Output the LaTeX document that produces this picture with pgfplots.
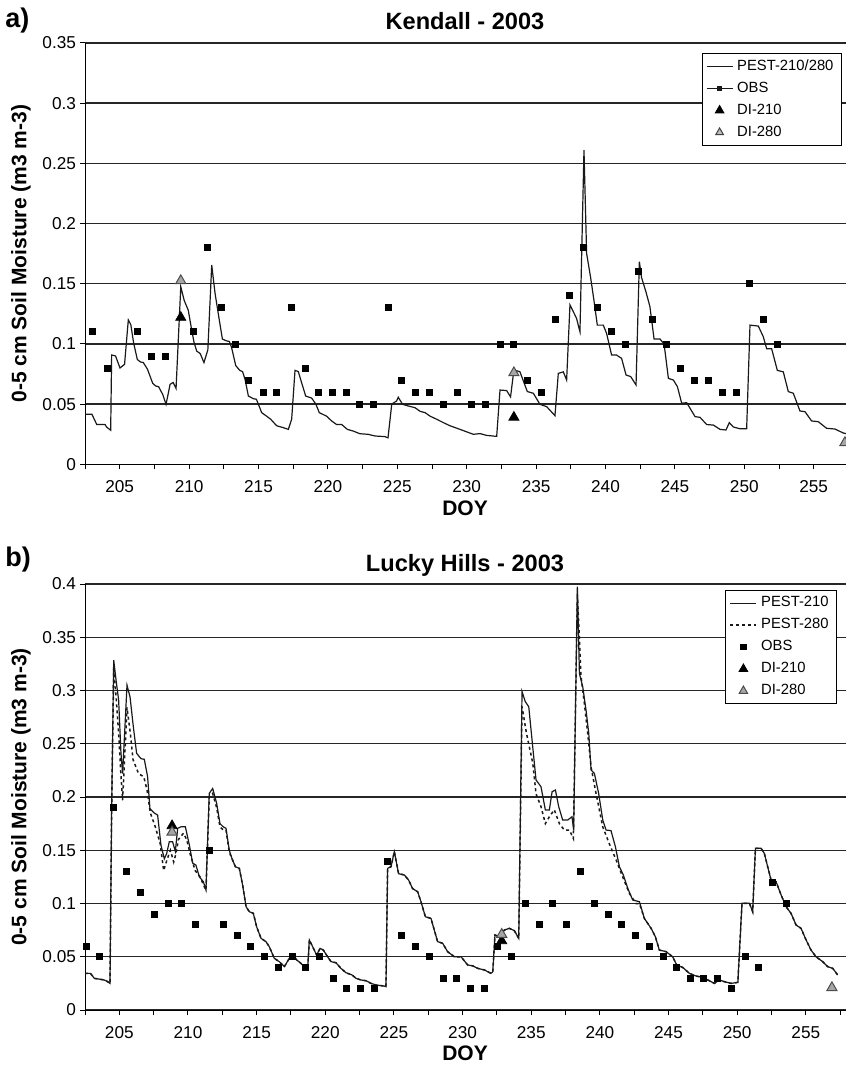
\documentclass[border=0pt]{standalone}
\usepackage{fontspec}
\setmainfont{Liberation Sans}
\usepackage{pgfplots}
\pgfplotsset{compat=1.18}

\pgfplotsset{
  soil/.style={
    scale only axis,
    axis x line*=bottom, axis y line*=left,
    axis line style={black, line width=0.5pt, -},
    ymajorgrids, grid style={black!85, line width=0.7pt},
    xtick={205,210,...,255}, minor xtick={202.5,207.5,...,257.5},
    tick align=outside, major tick length=2.5pt, minor tick length=2.5pt,
    tick style={black, line width=0.5pt},
    every tick label/.append style={font=\fontsize{8.6}{10}\selectfont},
    /pgf/number format/assume math mode=true,
    yticklabel style={/pgf/number format/fixed, /pgf/number format/precision=2, xshift=1.5pt},
    xticklabel style={yshift=-2pt},
    legend cell align=left,
  },
  legline/.style={legend image code/.code={\draw[##1] (0pt,0pt) -- (13pt,0pt);}},
  legmark/.style={legend image code/.code={\draw[##1] plot coordinates {(6.5pt,0pt)};}},
  leglinemark/.style={legend image code/.code={\draw[##1,mark=none] (0pt,0pt) -- (13pt,0pt); \draw[##1,draw opacity=0] plot coordinates {(6.5pt,0pt)};}},
  pest/.style={black!90, line width=0.6pt, mark=none},
  obs/.style={only marks, mark=square*, mark size=1.5pt, black},
  dia/.style={only marks, mark=triangle*, mark size=2.9pt, black},
  dib/.style={only marks, mark=triangle*, mark size=2.9pt, fill=black!35, draw=black!70, mark options={line width=0.5pt}},
}

\begin{document}
\begin{tikzpicture}
\useasboundingbox (0pt,0pt) rectangle (422.5pt,-534pt);

% ---------------- a) Kendall ----------------
\node[anchor=base west, font=\bfseries\fontsize{13.5}{15}\selectfont, inner sep=0pt] at (2.5pt,-14pt) {a)};
\node[anchor=base, font=\bfseries\fontsize{11.8}{14}\selectfont, inner sep=0pt] at (232.5pt,-15pt) {Kendall - 2003};
\node[anchor=base, font=\bfseries\fontsize{10.5}{12}\selectfont, inner sep=0pt] at (232.5pt,-257.5pt) {DOY};
\node[rotate=90, anchor=center, font=\bfseries\fontsize{10.5}{12}\selectfont, inner sep=0pt] at (10.5pt,-126.8pt) {0-5 cm Soil Moisture (m3 m-3)};

\begin{axis}[soil,
  at={(42.5pt,-232.15pt)}, anchor=south west,
  width=381.7pt, height=210.7pt,
  xmin=202.5, xmax=257.5, ymin=0, ymax=0.35,
  ytick={0,0.05,0.1,0.15,0.2,0.25,0.3,0.35},
  legend style={at={(0.9916,0.976)}, anchor=north east, draw=black, line width=0.5pt,
    fill=white, font=\fontsize{7.4}{8.5}\selectfont, inner xsep=2pt, inner ysep=1pt,
    row sep=0.3pt},
]
% simulated 0-5 cm soil moisture
\addplot[pest, forget plot] coordinates {
(202.5,0.0415)(203.0,0.0415)(203.35,0.0330)(203.95,0.0330)(204.05,0.0310)(204.35,0.0283)
(204.42,0.0908)(204.7,0.0900)(205.02,0.0800)(205.35,0.0830)(205.62,0.1199)(205.8,0.1160)
(206.0,0.1010)(206.27,0.0870)(206.5,0.0850)(206.7,0.0845)(207.0,0.0790)(207.38,0.0672)
(207.6,0.0650)(207.8,0.0645)(208.1,0.0580)(208.34,0.0498)(208.63,0.0664)(208.85,0.0680)
(209.06,0.0630)(209.4,0.1475)(209.65,0.1360)(209.94,0.1280)(210.15,0.1140)(210.35,0.1015)
(210.55,0.0940)(210.8,0.0920)(211.07,0.0845)(211.35,0.0950)(211.63,0.1655)(211.87,0.1420)
(212.18,0.1195)(212.4,0.1040)(212.7,0.1025)(212.9,0.1020)(213.05,0.0975)(213.36,0.0820)
(213.65,0.0780)(213.85,0.0770)(214.03,0.0706)(214.27,0.0567)(214.63,0.0545)(214.85,0.0540)
(215.23,0.0429)(215.58,0.0400)(215.88,0.0374)(216.31,0.0320)(216.8,0.0304)(217.15,0.0290)
(217.39,0.0374)(217.63,0.0780)(217.87,0.0770)(218.1,0.0680)(218.4,0.0567)(218.83,0.0550)
(219.14,0.0498)(219.38,0.0429)(219.9,0.0400)(220.27,0.0360)(220.63,0.0330)(221.0,0.0330)
(221.4,0.0290)(221.83,0.0276)(222.3,0.0254)(222.9,0.0249)(223.4,0.0235)(224.1,0.0230)
(224.33,0.0220)(224.6,0.0500)(224.95,0.0526)(225.07,0.0557)(225.38,0.0498)(225.8,0.0484)
(226.28,0.0470)(226.64,0.0440)(227.0,0.0429)(227.36,0.0400)(227.84,0.0374)(228.32,0.0346)
(228.8,0.0320)(229.52,0.0290)(230.48,0.0249)(230.96,0.0255)(231.44,0.0240)(232.16,0.0232)
(232.4,0.0617)(232.88,0.0612)(233.16,0.0560)(233.4,0.0782)(233.83,0.0770)(234.37,0.0604)
(234.8,0.0590)(235.28,0.0498)(235.76,0.0479)(236.36,0.0404)(236.6,0.0755)(236.96,0.0768)
(237.2,0.0700)(237.44,0.1323)(237.68,0.1268)(237.92,0.1210)(238.16,0.1100)(238.45,0.2610)
(238.64,0.1750)(238.93,0.1550)(239.17,0.1360)(239.41,0.1156)(239.84,0.1156)(240.08,0.1087)
(240.44,0.0907)(240.8,0.0907)(241.16,0.0880)(241.48,0.0742)(241.82,0.0728)(242.2,0.0659)
(242.44,0.1683)(242.6,0.1550)(242.92,0.1430)(243.2,0.1310)(243.5,0.1040)(243.93,0.1040)
(244.22,0.1000)(244.53,0.0714)(244.89,0.0700)(245.18,0.0645)(245.49,0.0507)(245.85,0.0512)
(246.45,0.0396)(246.81,0.0390)(247.29,0.0330)(247.77,0.0326)(248.25,0.0290)(248.68,0.0285)
(248.92,0.0346)(249.21,0.0310)(249.69,0.0295)(250.17,0.0295)(250.41,0.1156)(251.01,0.1148)
(251.37,0.1059)(251.61,0.0960)(251.97,0.0960)(252.38,0.0780)(252.81,0.0768)(253.17,0.0604)
(253.53,0.0590)(254.01,0.0443)(254.37,0.0437)(254.85,0.0360)(255.33,0.0354)(255.93,0.0299)
(256.53,0.0293)(257.13,0.0260)(257.5,0.0250)
};
% observations
\addplot[obs, forget plot] coordinates {
(203.0,0.11)(204.1,0.08)(206.3,0.11)(207.3,0.09)(208.3,0.09)(210.3,0.11)(211.3,0.18)
(212.35,0.13)(213.35,0.10)(214.3,0.07)(215.35,0.06)(216.3,0.06)(217.35,0.13)(218.35,0.08)
(219.3,0.06)(220.3,0.06)(221.3,0.06)(222.3,0.05)(223.3,0.05)(224.35,0.13)(225.3,0.07)
(226.3,0.06)(227.3,0.06)(228.35,0.05)(229.35,0.06)(230.35,0.05)(231.35,0.05)(232.4,0.10)
(233.4,0.10)(234.4,0.07)(235.4,0.06)(236.4,0.12)(237.4,0.14)(238.4,0.18)(239.4,0.13)
(240.4,0.11)(241.4,0.10)(242.4,0.16)(243.4,0.12)(244.4,0.10)(245.4,0.08)(246.4,0.07)
(247.4,0.07)(248.4,0.06)(249.4,0.06)(250.4,0.15)(251.4,0.12)(252.4,0.10)
};
% data-assimilation estimates
\addplot[dia, forget plot] coordinates {(209.4,0.122)(233.4,0.039)};
\addplot[dib, forget plot] coordinates {(209.4,0.1525)(233.4,0.076)(257.25,0.018)};

\addlegendimage{legline, pest}
\addlegendentry{PEST-210/280}
\addlegendimage{leglinemark, black!90, line width=0.6pt, mark=square*, mark size=1.2pt}
\addlegendentry{OBS}
\addlegendimage{legmark, dia, mark size=2.4pt}
\addlegendentry{DI-210}
\addlegendimage{legmark, only marks, mark=triangle*, mark size=2.2pt, fill=black!25, draw=black!75}
\addlegendentry{DI-280}
\end{axis}

% ---------------- b) Lucky Hills ----------------
\node[anchor=base west, font=\bfseries\fontsize{13.5}{15}\selectfont, inner sep=0pt] at (2.5pt,-283pt) {b)};
\node[anchor=base, font=\bfseries\fontsize{11.8}{14}\selectfont, inner sep=0pt] at (232.5pt,-285.5pt) {Lucky Hills - 2003};
\node[anchor=base, font=\bfseries\fontsize{10.5}{12}\selectfont, inner sep=0pt] at (232.5pt,-530pt) {DOY};
\node[rotate=90, anchor=center, font=\bfseries\fontsize{10.5}{12}\selectfont, inner sep=0pt] at (10.5pt,-398.5pt) {0-5 cm Soil Moisture (m3 m-3)};

\begin{axis}[soil,
  at={(42.5pt,-505pt)}, anchor=south west,
  width=381pt, height=213pt,
  xmin=202.5, xmax=258, ymin=0, ymax=0.4,
  ytick={0,0.05,0.1,0.15,0.2,0.25,0.3,0.35,0.4},
  legend style={at={(0.987,0.986)}, anchor=north east, draw=black, line width=0.5pt,
    fill=white, font=\fontsize{7.4}{8.5}\selectfont, inner xsep=2pt, inner ysep=1pt,
    row sep=0.3pt},
]
% PEST-210
\addplot[pest, forget plot] coordinates {
(202.5,0.0344)(202.9,0.0344)(203.18,0.0297)(203.55,0.0290)(203.9,0.0282)(204.1,0.0270)
(204.32,0.0250)(204.44,0.1880)(204.59,0.3286)(204.76,0.3100)(204.95,0.2910)(205.12,0.2410)
(205.24,0.2220)(205.56,0.3050)(205.78,0.2940)(206.02,0.2660)(206.26,0.2410)(206.58,0.2360)
(206.82,0.2354)(207.06,0.2190)(207.23,0.1890)(207.55,0.1850)(207.79,0.1830)(208.03,0.1550)
(208.28,0.1420)(208.45,0.1470)(208.64,0.1580)(208.88,0.1580)(209.08,0.1490)(209.25,0.1706)
(209.49,0.1720)(209.81,0.1720)(210.1,0.1550)(210.34,0.1380)(210.58,0.1360)(210.83,0.1250)
(211.12,0.1205)(211.31,0.1127)(211.55,0.2034)(211.8,0.2080)(212.09,0.1940)(212.33,0.1750)
(212.57,0.1720)(212.77,0.1706)(213.01,0.1500)(213.21,0.1420)(213.45,0.1346)(213.74,0.1330)
(213.98,0.1174)(214.23,0.0970)(214.47,0.0923)(214.76,0.0908)(215.0,0.0782)(215.32,0.0673)
(215.68,0.0642)(215.92,0.0595)(216.29,0.0485)(216.65,0.0454)(217.02,0.0407)(217.38,0.0485)
(217.62,0.0516)(217.92,0.0470)(218.23,0.0438)(218.55,0.0391)(218.72,0.0391)(218.84,0.0657)
(219.08,0.0595)(219.37,0.0516)(219.62,0.0579)(219.86,0.0563)(220.17,0.0500)(220.42,0.0454)
(220.78,0.0444)(221.14,0.0391)(221.51,0.0350)(221.95,0.0329)(222.24,0.0297)(222.6,0.0282)
(222.97,0.0275)(223.33,0.0250)(223.69,0.0235)(224.3,0.0225)(224.42,0.0219)(224.54,0.1330)
(224.79,0.1346)(225.03,0.1487)(225.34,0.1280)(225.76,0.1268)(226.07,0.1220)(226.36,0.1140)
(226.73,0.1110)(226.97,0.1017)(227.29,0.0876)(227.7,0.0860)(227.94,0.0751)(228.18,0.0642)
(228.55,0.0626)(228.91,0.0548)(229.4,0.0500)(229.89,0.0500)(230.37,0.0423)(230.73,0.0415)
(231.1,0.0391)(231.59,0.0376)(232.07,0.0344)(232.2,0.0360)(232.36,0.0704)(232.68,0.0689)
(233.04,0.0751)(233.41,0.0767)(233.77,0.0745)(234.09,0.0673)(234.33,0.2989)(234.57,0.2895)
(234.82,0.2848)(235.11,0.2470)(235.35,0.2160)(235.71,0.2097)(236.03,0.1878)(236.32,0.1878)
(236.52,0.2050)(236.76,0.2066)(237.0,0.1910)(237.29,0.1784)(237.66,0.1784)(237.97,0.1815)
(238.09,0.1690)(238.36,0.3975)(238.51,0.3160)(238.75,0.3036)(238.99,0.2817)(239.19,0.2598)
(239.36,0.2254)(239.6,0.2222)(239.91,0.2034)(240.21,0.1784)(240.45,0.1690)(240.81,0.1684)
(241.13,0.1534)(241.42,0.1346)(241.71,0.1268)(242.03,0.1142)(242.39,0.1033)(242.88,0.1017)
(243.24,0.0860)(243.73,0.0767)(244.04,0.0689)(244.33,0.0563)(244.82,0.0548)(245.3,0.0500)
(245.6,0.0423)(246.03,0.0400)(246.52,0.0344)(247.0,0.0319)(247.49,0.0307)(247.97,0.0275)
(248.34,0.0250)(248.7,0.0282)(249.07,0.0266)(249.55,0.0250)(249.92,0.0257)(250.05,0.0260)
(250.35,0.1002)(250.89,0.1002)(251.13,0.0923)(251.33,0.1518)(251.74,0.1518)(251.98,0.1470)
(252.22,0.1346)(252.47,0.1220)(252.83,0.1205)(253.2,0.1080)(253.56,0.0970)(253.92,0.0908)
(254.29,0.0798)(254.65,0.0767)(255.02,0.0657)(255.38,0.0563)(255.74,0.0500)(256.23,0.0454)
(256.59,0.0407)(256.96,0.0391)(257.32,0.0329)
};
% PEST-280
\addplot[black!90, line width=0.75pt, dash pattern=on 1.5pt off 1.5pt, forget plot] coordinates {
(202.5,0.0344)(202.9,0.0344)(203.18,0.0297)(203.55,0.0290)(203.9,0.0282)(204.1,0.0270)
(204.32,0.0250)(204.44,0.1880)(204.59,0.3200)(204.76,0.2950)(204.95,0.2600)(205.12,0.2200)
(205.24,0.1970)(205.56,0.2840)(205.8,0.2600)(206.0,0.2350)(206.4,0.2220)(206.78,0.2190)
(207.02,0.2066)(207.26,0.1850)(207.62,0.1720)(207.98,0.1560)(208.23,0.1310)(208.47,0.1410)
(208.72,0.1500)(208.96,0.1390)(209.13,0.1470)(209.3,0.1600)(209.67,0.1660)(209.91,0.1600)
(210.15,0.1470)(210.52,0.1310)(210.88,0.1250)(211.25,0.1140)(211.31,0.1127)(211.55,0.2000)
(211.8,0.2034)(212.09,0.1900)(212.33,0.1720)(212.57,0.1690)(212.77,0.1690)(213.01,0.1480)
(213.21,0.1420)(213.45,0.1346)(213.74,0.1330)(213.98,0.1174)(214.23,0.0970)(214.47,0.0923)
(214.76,0.0908)(215.0,0.0782)(215.32,0.0673)(215.68,0.0642)(215.92,0.0595)(216.29,0.0485)
(216.65,0.0454)(217.02,0.0407)(217.38,0.0485)(217.62,0.0516)(217.92,0.0470)(218.23,0.0438)
(218.55,0.0391)(218.72,0.0391)(218.84,0.0657)(219.08,0.0595)(219.37,0.0516)(219.62,0.0579)
(219.86,0.0563)(220.17,0.0500)(220.42,0.0454)(220.78,0.0444)(221.14,0.0391)(221.51,0.0350)
(221.95,0.0329)(222.24,0.0297)(222.6,0.0282)(222.97,0.0275)(223.33,0.0250)(223.69,0.0235)
(224.3,0.0225)(224.42,0.0219)(224.54,0.1330)(224.79,0.1346)(225.03,0.1487)(225.34,0.1280)
(225.76,0.1268)(226.07,0.1220)(226.36,0.1140)(226.73,0.1110)(226.97,0.1017)(227.29,0.0876)
(227.7,0.0860)(227.94,0.0751)(228.18,0.0642)(228.55,0.0626)(228.91,0.0548)(229.4,0.0500)
(229.89,0.0500)(230.37,0.0423)(230.73,0.0415)(231.1,0.0391)(231.59,0.0376)(232.07,0.0344)
(232.2,0.0360)(232.36,0.0704)(232.68,0.0689)(233.04,0.0751)(233.41,0.0767)(233.77,0.0745)
(234.09,0.0673)(234.33,0.2850)(234.65,0.2600)(235.11,0.2320)(235.35,0.2030)(235.71,0.1910)
(236.03,0.1750)(236.32,0.1815)(236.68,0.1880)(237.05,0.1750)(237.41,0.1690)(237.78,0.1690)
(238.07,0.1610)(238.36,0.3910)(238.63,0.3130)(238.87,0.2880)(239.11,0.2600)(239.36,0.2280)
(239.72,0.2034)(240.21,0.1720)(240.69,0.1560)(241.18,0.1410)(241.66,0.1250)(242.15,0.1095)
(242.63,0.1000)(242.88,0.1000)(243.24,0.0860)(243.73,0.0767)(244.04,0.0689)(244.33,0.0563)
(244.82,0.0548)(245.3,0.0500)(245.6,0.0423)(246.03,0.0400)(246.52,0.0344)(247.0,0.0319)
(247.49,0.0307)(247.97,0.0275)(248.34,0.0250)(248.7,0.0282)(249.07,0.0266)(249.55,0.0250)
(249.92,0.0257)(250.05,0.0260)(250.35,0.1002)(250.89,0.1002)(251.13,0.0923)(251.33,0.1518)
(251.74,0.1518)(251.98,0.1470)(252.22,0.1346)(252.47,0.1220)(252.83,0.1205)(253.2,0.1080)
(253.56,0.0970)(253.92,0.0908)(254.29,0.0798)(254.65,0.0767)(255.02,0.0657)(255.38,0.0563)
(255.74,0.0500)(256.23,0.0454)(256.59,0.0407)(256.96,0.0391)(257.32,0.0329)
};
% observations
\addplot[obs, forget plot] coordinates {
(202.57,0.06)(203.55,0.05)(204.57,0.19)(205.55,0.13)(206.57,0.11)(207.57,0.09)(208.57,0.10)
(209.55,0.10)(210.57,0.08)(211.57,0.15)(212.57,0.08)(213.57,0.07)(214.57,0.06)(215.57,0.05)
(216.57,0.04)(217.57,0.05)(218.57,0.04)(219.57,0.05)(220.57,0.03)(221.57,0.02)(222.57,0.02)
(223.57,0.02)(224.55,0.14)(225.57,0.07)(226.57,0.06)(227.57,0.05)(228.57,0.03)(229.57,0.03)
(230.57,0.02)(231.57,0.02)(232.57,0.06)(233.57,0.05)(234.57,0.10)(235.57,0.08)(236.57,0.10)
(237.57,0.08)(238.58,0.13)(239.6,0.10)(240.6,0.09)(241.6,0.08)(242.6,0.07)(243.6,0.06)
(244.6,0.05)(245.6,0.04)(246.6,0.03)(247.57,0.03)(248.58,0.03)(249.6,0.02)(250.6,0.05)
(251.57,0.04)(252.59,0.12)(253.6,0.10)
};
% data-assimilation estimates
\addplot[dia, forget plot] coordinates {(208.84,0.173)(232.85,0.065)};
\addplot[dib, forget plot] coordinates {(208.84,0.167)(232.85,0.071)(256.9,0.021)};

\addlegendimage{legline, pest}
\addlegendentry{PEST-210}
\addlegendimage{legline, black!90, line width=0.75pt, dash pattern=on 1.5pt off 1.5pt}
\addlegendentry{PEST-280}
\addlegendimage{legmark, obs, mark size=1.3pt}
\addlegendentry{OBS}
\addlegendimage{legmark, dia, mark size=2.4pt}
\addlegendentry{DI-210}
\addlegendimage{legmark, dib, mark size=2.4pt}
\addlegendentry{DI-280}
\end{axis}
\end{tikzpicture}
\end{document}
